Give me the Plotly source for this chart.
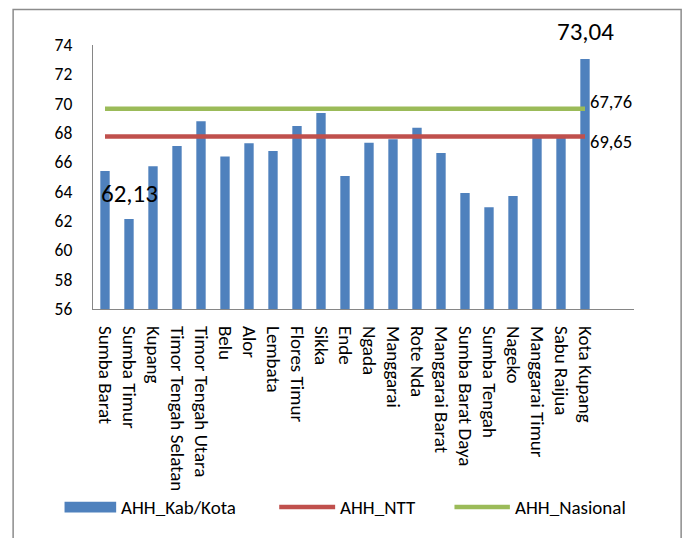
import plotly.graph_objects as go

# Angka Harapan Hidup (AHH) per kabupaten/kota, NTT
kabupaten = [
    "Sumba Barat", "Sumba Timur", "Kupang", "Timor Tengah Selatan",
    "Timor Tengah Utara", "Belu", "Alor", "Lembata", "Flores Timur",
    "Sikka", "Ende", "Ngada", "Manggarai", "Rote Nda", "Manggarai Barat",
    "Sumba Barat Daya", "Sumba Tengah", "Nageko", "Manggarai Timur",
    "Sabu Raijua", "Kota Kupang",
]
ahh_kab = [
    65.41, 62.13, 65.73, 67.11, 68.80, 66.39, 67.30, 66.77, 68.48,
    69.36, 65.07, 67.34, 67.57, 68.36, 66.64, 63.91, 62.93, 63.70,
    67.72, 67.70, 73.04,
]
ahh_ntt = 67.76
ahh_nasional = 69.65
y_ticks = [56, 58, 60, 62, 64, 66, 68, 70, 72, 74]

BLUE = "#4F81BD"
RED = "#C0504D"
GREEN = "#9BBB59"
AXIS = "#868686"
FONT = "Carlito, Calibri, Lato, sans-serif"

W, H = 688, 538
ML, MR, MT, MB = 92.5, 53.7, 45, 228.5
PW, PH = W - ML - MR, H - MT - MB


def px_x(px):
    return (px - ML) / PW


def px_y(py):
    return (H - MB - py) / PH


def fmt(v):
    return f"{v:.2f}".replace(".", ",")


fig = go.Figure()
fig.add_trace(go.Bar(
    x=kabupaten, y=ahh_kab, name="AHH_Kab/Kota",
    marker=dict(color=BLUE, line=dict(width=0)), showlegend=False,
))
fig.add_trace(go.Scatter(
    x=kabupaten, y=[ahh_ntt] * len(kabupaten), name="AHH_NTT",
    mode="lines", line=dict(color=RED, width=4.5), showlegend=False,
))
fig.add_trace(go.Scatter(
    x=kabupaten, y=[ahh_nasional] * len(kabupaten), name="AHH_Nasional",
    mode="lines", line=dict(color=GREEN, width=4.5), showlegend=False,
))

annotations = []
# value labels for the lowest and highest regencies
i_min = ahh_kab.index(min(ahh_kab))
i_max = ahh_kab.index(max(ahh_kab))
for i, shift in ((i_min, 26), (i_max, 28)):
    annotations.append(dict(
        x=kabupaten[i], y=ahh_kab[i], text=fmt(ahh_kab[i]), showarrow=False,
        xanchor="center", yanchor="middle", yshift=shift,
        font=dict(family=FONT, size=25, color="black"),
    ))
# end labels of the two reference lines
for val, shift in ((ahh_ntt, 35.5), (ahh_nasional, -33)):
    annotations.append(dict(
        x=kabupaten[-1], y=val, text=fmt(val), showarrow=False,
        xanchor="left", yanchor="middle", xshift=3, yshift=shift,
        font=dict(family=FONT, size=18.5, color="black"),
    ))

# legend drawn below the axis labels
legend_items = [
    ("AHH_Kab/Kota", BLUE, "rect", 64, 115.7),
    ("AHH_NTT", RED, "line", 279, 335),
    ("AHH_Nasional", GREEN, "line", 454.5, 510),
]
leg_y = 508
shapes = []
for label, color, kind, x0, x1 in legend_items:
    if kind == "rect":
        shapes.append(dict(
            type="rect", xref="paper", yref="paper",
            x0=px_x(x0), x1=px_x(x1), y0=px_y(leg_y + 5.3), y1=px_y(leg_y - 5.3),
            fillcolor=color, line=dict(width=0),
        ))
    else:
        shapes.append(dict(
            type="line", xref="paper", yref="paper",
            x0=px_x(x0), x1=px_x(x1), y0=px_y(leg_y), y1=px_y(leg_y),
            line=dict(color=color, width=4.5),
        ))
    annotations.append(dict(
        xref="paper", yref="paper", x=px_x(x1 + 3), y=px_y(leg_y),
        text=label, showarrow=False, xanchor="left", yanchor="middle",
        font=dict(family=FONT, size=19, color="black"),
    ))

# chart frame
shapes.append(dict(
    type="rect", xref="paper", yref="paper", layer="below",
    x0=px_x(12.5), x1=px_x(681.5), y0=px_y(560), y1=px_y(9.5),
    line=dict(color="#8C8C8C", width=1.5), fillcolor="rgba(0,0,0,0)",
))

fig.update_layout(
    width=W, height=H,
    margin=dict(l=ML, r=MR, t=MT, b=MB, pad=0),
    paper_bgcolor="white", plot_bgcolor="white",
    bargap=0.61,
    font=dict(family=FONT, color="black"),
    annotations=annotations, shapes=shapes,
    showlegend=False,
)
fig.update_xaxes(
    type="category", showline=True, linecolor=AXIS, linewidth=1.3,
    showgrid=False, ticks="", tickangle=90, ticklabelstandoff=12,
    tickfont=dict(family=FONT, size=19, color="black"),
)
fig.update_yaxes(
    range=[56, 74], tickvals=y_ticks, showline=True, linecolor=AXIS,
    linewidth=1.3, showgrid=False, zeroline=False, ticks="",
    ticklabelstandoff=16,
    tickfont=dict(family=FONT, size=17.5, color="black"),
)

fig.write_html("out.html")
